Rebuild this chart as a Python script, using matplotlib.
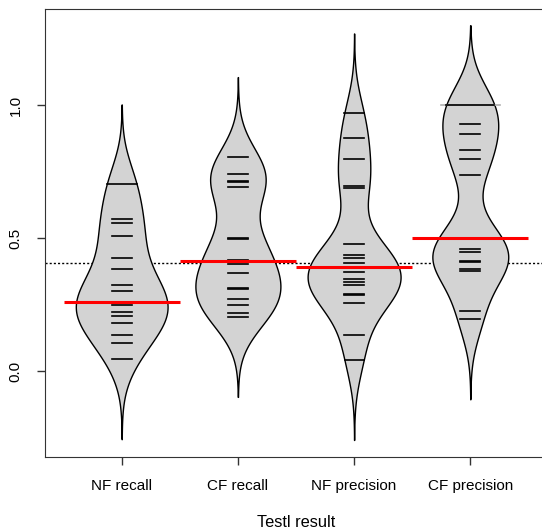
import numpy as np
import matplotlib
matplotlib.use("Agg")
import matplotlib.pyplot as plt

plt.rcParams['font.family'] = ['Liberation Sans', 'DejaVu Sans']

##### data #####
groups = ["NF recall", "CF recall", "NF precision", "CF precision"]

nf_recall = [0.702, 0.571, 0.555, 0.507, 0.426, 0.383, 0.323, 0.301, 0.260, 0.254,
             0.248, 0.223, 0.208, 0.179, 0.135, 0.106, 0.044]
nf_recall_n = [2, 1, 1, 1, 1, 1, 1, 1, 1, 1, 1, 1, 1, 1, 1, 1, 1]

cf_recall = [0.805, 0.741, 0.716, 0.712, 0.693, 0.502, 0.498, 0.417, 0.401, 0.369,
             0.312, 0.308, 0.272, 0.248, 0.220, 0.203]
cf_recall_n = [1, 1, 1, 1, 1, 1, 1, 1, 1, 1, 1, 1, 1, 1, 1, 1]

nf_precision = [0.969, 0.877, 0.798, 0.697, 0.688, 0.478, 0.436, 0.425, 0.407, 0.372,
                0.347, 0.336, 0.325, 0.291, 0.287, 0.257, 0.135, 0.041]
nf_precision_n = [1, 1, 1, 1, 1, 1, 1, 1, 1, 1, 1, 1, 1, 1, 1, 1, 1, 1]

cf_precision = [1.000, 0.929, 0.890, 0.832, 0.797, 0.736, 0.500, 0.458, 0.449, 0.413,
                0.409, 0.384, 0.375, 0.224, 0.194]
cf_precision_n = [3, 1, 1, 1, 1, 1, 2, 1, 1, 1, 1, 1, 1, 1, 1]

bean_avg = [0.258, 0.415, 0.390, 0.500]   # red lines
overall_avg = 0.406                        # dotted line

data = [nf_recall, cf_recall, nf_precision, cf_precision]
counts = [nf_recall_n, cf_recall_n, nf_precision_n, cf_precision_n]

bw = 0.1
cut = 0.3      # how far the bean runs past the data
ll = 0.17      # bean line length per point
maxhalf = 0.40 # widest bean half width


def kde(vals, w, grid):
    vals = np.asarray(vals)
    w = np.asarray(w, dtype=float)
    d = np.exp(-0.5 * ((grid[:, None] - vals[None, :]) / bw) ** 2) * w[None, :]
    return d.sum(axis=1) / (w.sum() * bw * np.sqrt(2 * np.pi))


grids = []
dens = []
for vals, w in zip(data, counts):
    g = np.linspace(min(vals) - cut, max(vals) + cut, 400)
    grids.append(g)
    dens.append(kde(vals, w, g))
scale = maxhalf / max(d.max() for d in dens)

fig = plt.figure(figsize=(5.42, 5.30), dpi=100)
ax = fig.add_axes([45 / 542, 1 - 457 / 530, 502 / 542, 448 / 530])

##### overall line #####
ax.axhline(overall_avg, color="black", lw=1, ls=(0, (1.5, 1.5)), zorder=1)

for i in range(len(groups)):
    x = i + 1
    g = grids[i]
    hw = dens[i] * scale
    ax.fill_betweenx(g, x - hw, x + hw, facecolor="#d3d3d3", edgecolor="black",
                     lw=1, zorder=2)
    ##### bean lines #####
    for v, n in zip(data[i], counts[i]):
        half = ll * n / 2
        bhw = kde(data[i], counts[i], np.array([v]))[0] * scale
        inner = min(half, bhw)
        if n > 2:
            ax.plot([x - half, x + half], [v, v], color="#b0b0b0", lw=1.2, zorder=3)
        ax.plot([x - inner, x + inner], [v, v], color="black", lw=1.2, zorder=4)
    ##### bean average #####
    ax.plot([x - 0.5, x + 0.5], [bean_avg[i], bean_avg[i]], color="red", lw=2.2,
            zorder=5, solid_capstyle="butt")

ax.set_xlim(0.34, 4.66)
ax.set_ylim(-0.323, 1.361)
ax.set_xticks(range(1, len(groups) + 1))
ax.set_xticklabels(groups, fontsize=11)
ax.set_yticks([0.0, 0.5, 1.0])
ax.set_yticklabels(["0.0", "0.5", "1.0"], rotation=90, va="center", fontsize=11)
ax.tick_params(length=6, width=1, color="#333333", pad=10)
for s in ax.spines.values():
    s.set_color("#333333")
ax.set_xlabel("Testl result", fontsize=11.8, labelpad=16)

fig.savefig("out.png", dpi=100)
